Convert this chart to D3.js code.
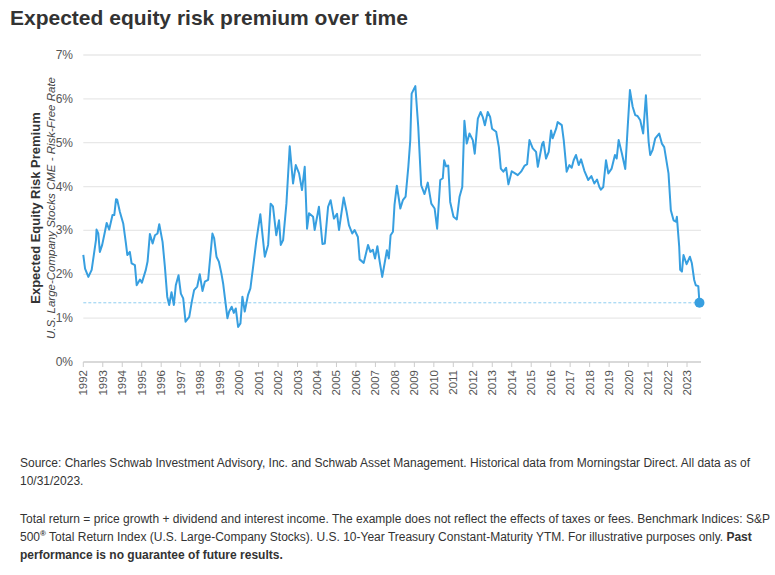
<!DOCTYPE html>
<html><head><meta charset="utf-8">
<script src="https://cdn.jsdelivr.net/npm/d3@7"></script>
<style>body{margin:0;background:#fff;font-family:Arial,"Liberation Sans",sans-serif}</style>
</head><body><svg id="c" width="775" height="575"></svg>
<script>
const yearOffsets=[0,.09,.26,.43,.65,.68,.77,.85,.97,1.11,1.20,1.33,1.50,1.59,1.68,1.74,1.88,2.05,2.19,2.26,2.39,2.48,2.65,2.74,2.91,3.01,3.21,3.30,3.42,3.56,3.68,3.81,3.90,4.07,4.19,4.31,4.41,4.53,4.65,4.75,4.89,5.01,5.13,5.25,5.44,5.57,5.69,5.85,5.98,6.12,6.24,6.41,6.63,6.72,6.84,6.96,7.09,7.18,7.40,7.49,7.62,7.73,7.83,7.95,8.07,8.17,8.29,8.46,8.58,8.72,8.89,9.09,9.32,9.49,9.62,9.74,9.91,10.05,10.14,10.26,10.43,10.60,10.77,10.91,11.08,11.23,11.37,11.49,11.59,11.80,11.88,12.10,12.28,12.40,12.57,12.70,12.87,13.03,13.13,13.37,13.51,13.64,13.81,13.93,14.10,14.19,14.40,14.62,14.74,14.87,14.98,15.10,15.22,15.35,15.59,15.69,15.78,15.90,15.98,16.10,16.28,16.41,16.55,16.69,16.79,16.86,17.05,17.20,17.35,17.52,17.69,17.87,18.04,18.17,18.33,18.46,18.53,18.63,18.74,18.84,19.01,19.18,19.32,19.46,19.57,19.69,19.83,20.00,20.10,20.26,20.40,20.51,20.62,20.77,20.89,20.99,21.20,21.34,21.44,21.57,21.71,21.83,22.00,22.17,22.31,22.48,22.65,22.79,22.91,23.08,23.25,23.34,23.56,23.63,23.76,23.90,24.02,24.10,24.28,24.36,24.57,24.67,24.82,24.96,25.08,25.18,25.30,25.44,25.56,25.73,25.93,26.09,26.24,26.38,26.50,26.58,26.70,26.84,26.96,27.13,27.30,27.39,27.49,27.66,27.83,27.95,28.07,28.21,28.34,28.46,28.60,28.75,28.89,29.03,29.11,29.23,29.37,29.57,29.71,29.83,30.05,30.17,30.31,30.43,30.48,30.60,30.65,30.74,30.82,30.98,31.15,31.25,31.37,31.45,31.58,31.64];
const premium=[2.44,2.13,1.94,2.1,2.78,3.02,2.93,2.51,2.67,2.97,3.17,3.02,3.35,3.35,3.71,3.70,3.42,3.16,2.7,2.44,2.51,2.25,2.21,1.75,1.88,1.81,2.1,2.29,2.92,2.7,2.89,2.93,3.14,2.74,2.17,1.49,1.3,1.59,1.3,1.75,1.98,1.56,1.45,0.92,1.03,1.37,1.64,1.72,2.0,1.62,1.83,1.87,2.93,2.82,2.4,2.29,2.02,1.79,1.0,1.15,1.26,1.12,1.22,0.8,0.88,1.49,1.15,1.53,1.68,2.17,2.78,3.37,2.4,2.67,3.61,3.55,2.89,3.23,2.67,2.78,3.61,4.92,4.07,4.49,4.3,3.92,4.45,3.04,3.39,3.31,3.01,3.54,2.69,2.70,3.54,3.69,3.27,3.38,3.01,3.75,3.45,3.12,2.93,3.01,2.85,2.34,2.26,2.67,2.51,2.56,2.36,2.64,2.29,1.94,2.55,2.36,2.89,2.97,3.58,4.02,3.5,3.69,3.77,4.45,5.06,6.12,6.29,5.36,4.03,3.83,4.09,3.61,3.5,3.04,4.15,4.19,4.6,4.46,4.48,3.65,3.31,3.25,3.77,3.99,5.5,4.98,5.21,5.06,4.75,5.55,5.7,5.59,5.4,5.7,5.59,5.32,5.25,4.9,4.41,4.34,4.43,4.05,4.35,4.30,4.26,4.34,4.47,4.51,5.06,4.87,4.79,4.45,4.97,5.02,4.64,4.79,5.28,5.1,5.32,5.47,5.40,5.06,4.34,4.49,4.43,4.6,4.72,4.49,4.62,4.36,4.15,4.24,4.07,4.16,3.99,3.93,3.99,4.6,4.3,4.41,4.72,4.64,5.06,4.75,4.4,5.32,6.2,5.82,5.63,5.61,5.51,5.21,6.08,5.02,4.72,4.83,5.1,5.21,4.98,4.9,4.3,3.46,3.23,3.2,3.31,2.63,2.1,2.06,2.44,2.23,2.4,2.25,1.87,1.75,1.73,1.35];
const startYear=1992;
const tickYears=d3.range(1992,2024);
const yTicks=[0,1,2,3,4,5,6,7];
const currentValue=1.35;

const svg=d3.select("#c");
const x=d3.scaleLinear().domain([1992,2023]).range([83.3,687]);
const y=d3.scaleLinear().domain([0,7]).range([362,55]);
const xr=[83.3,701];
svg.append("text").attr("x",10).attr("y",25).attr("font-size",21).attr("font-weight","bold").attr("fill","#333").text("Expected equity risk premium over time");
yTicks.forEach(t=>{
  svg.append("line").attr("x1",xr[0]).attr("x2",xr[1]).attr("y1",y(t)).attr("y2",y(t)).attr("stroke",t===0?"#ccc":"#e8e8e8").attr("stroke-width",1.3);
  svg.append("text").attr("x",73).attr("y",y(t)+4).attr("text-anchor","end").attr("font-size",12).attr("fill","#555").text(t+"%");
});
tickYears.forEach(t=>{
  svg.append("line").attr("x1",x(t)).attr("x2",x(t)).attr("y1",362).attr("y2",367).attr("stroke","#ccc");
  svg.append("text").attr("transform",`translate(${x(t)+4},370) rotate(-90)`).attr("text-anchor","end").attr("font-size",11.5).attr("fill","#555").text(t);
});
svg.append("text").attr("transform","translate(40,208) rotate(-90)").attr("text-anchor","middle").attr("font-size",13).attr("font-weight","bold").attr("fill","#333").text("Expected Equity Risk Premium");
svg.append("text").attr("transform","translate(55,208) rotate(-90)").attr("text-anchor","middle").attr("font-size",11.5).attr("font-style","italic").attr("fill","#444").text("U.S. Large-Company Stocks CME - Risk-Free Rate");
svg.append("line").attr("x1",xr[0]).attr("x2",x(startYear+yearOffsets[yearOffsets.length-1])).attr("y1",y(currentValue)).attr("y2",y(currentValue)).attr("stroke","#8fcdf0").attr("stroke-dasharray","3,2");
const data=yearOffsets.map((o,i)=>[startYear+o,premium[i]]);
svg.append("path").datum(data).attr("fill","none").attr("stroke","#379fe0").attr("stroke-width",2).attr("stroke-linejoin","round")
  .attr("d",d3.line().x(d=>x(d[0])).y(d=>y(d[1])));
const last=data[data.length-1];
svg.append("circle").attr("cx",x(last[0])).attr("cy",y(last[1])).attr("r",5).attr("fill","#379fe0");
const foot=[
 {y:467,t:"Source: Charles Schwab Investment Advisory, Inc. and Schwab Asset Management. Historical data from Morningstar Direct. All data as of"},
 {y:485,t:"10/31/2023."},
 {y:523,t:"Total return = price growth + dividend and interest income. The example does not reflect the effects of taxes or fees. Benchmark Indices: S&P"}];
foot.forEach(f=>svg.append("text").attr("x",20).attr("y",f.y).attr("font-size",12).attr("fill","#333").text(f.t));
const t4=svg.append("text").attr("x",20).attr("y",541).attr("font-size",12).attr("fill","#333");
t4.append("tspan").text("500");
t4.append("tspan").attr("font-size",8).attr("dy",-5).attr("font-weight","bold").text("®");
t4.append("tspan").attr("dy",5).text(" Total Return Index (U.S. Large-Company Stocks). U.S. 10-Year Treasury Constant-Maturity YTM.  For illustrative purposes only. ");
t4.append("tspan").attr("font-weight","bold").text("Past");
svg.append("text").attr("x",20).attr("y",559).attr("font-size",12).attr("font-weight","bold").attr("fill","#333").text("performance is no guarantee of future results.");
</script></body></html>
